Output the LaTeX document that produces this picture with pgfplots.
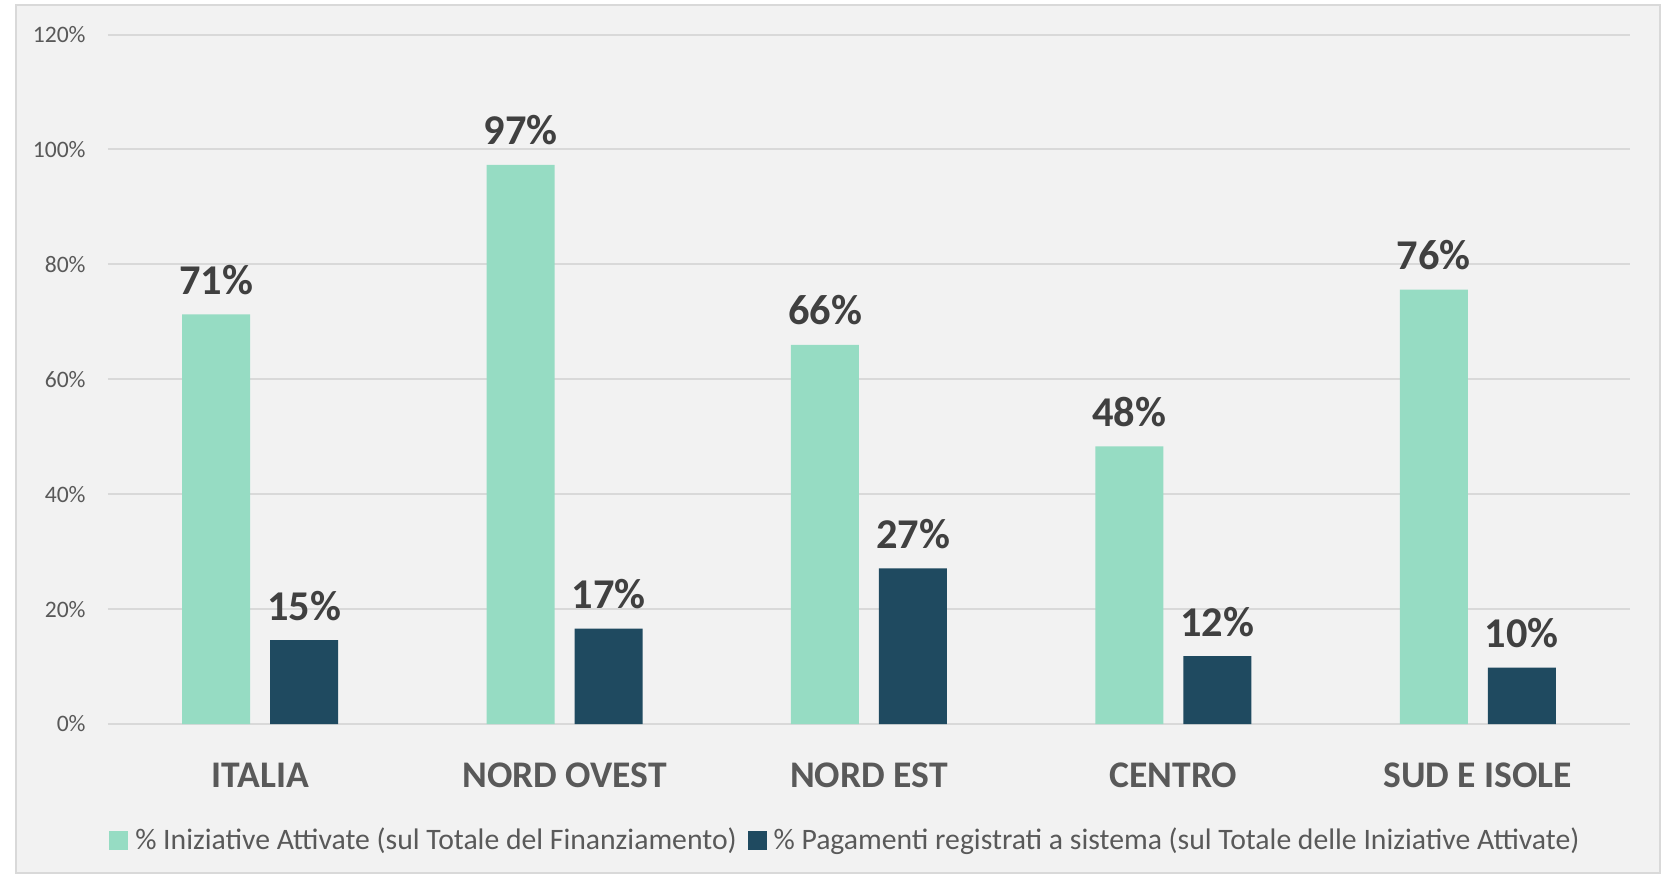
\documentclass[border=0pt]{standalone}
\usepackage{fontspec}
\setmainfont{Carlito}
\usepackage{pgfplots}
\pgfplotsset{compat=1.18}
\definecolor{bgc}{HTML}{F2F2F2}
\definecolor{gridc}{HTML}{D9D9D9}
\definecolor{lightbar}{HTML}{96DCC3}
\definecolor{darkbar}{HTML}{1F4A60}
\definecolor{tickc}{HTML}{595959}
\definecolor{labc}{HTML}{404040}
\begin{document}
\begin{tikzpicture}
\path[use as bounding box, fill=white] (-54pt,-75.5pt) rectangle (777pt,362pt);
\draw[gridc, line width=1pt, fill=bgc] (-46pt,-74.5pt) rectangle (776pt,359.5pt);
\begin{axis}[
 at={(0,0)}, anchor=south west,
 scale only axis, width=761pt, height=344.75pt,
 xmin=-0.5, xmax=4.5, ymin=0, ymax=120,
 ybar=10pt, bar width=34pt,
 axis line style={draw=none}, major tick length=0pt,
 ytick={0,20,...,120},
 yticklabel={\pgfmathprintnumber{\tick}\%},
 yticklabel style={anchor=east, inner sep=0pt, xshift=-11pt, font=\fontsize{11.8}{12}\selectfont, text=tickc},
 xtick={0,1,2,3,4}, xticklabels={ITALIA, NORD OVEST, NORD EST, CENTRO, SUD E ISOLE},
 xticklabel style={anchor=base, inner sep=0pt, yshift=-31.5pt, font=\bfseries\fontsize{18.8}{20}\selectfont, text=tickc},
 /pgf/number format/assume math mode=true,
 ymajorgrids, grid style={gridc, line width=1pt},
 nodes near coords={\pgfmathprintnumber[fixed,precision=0]{\pgfplotspointmeta}\%},
 every node near coord/.append style={anchor=base, inner sep=0pt, yshift=10pt, font=\bfseries\fontsize{21.2}{24}\selectfont, text=labc},
 legend columns=2,
 legend style={at={(0.0007,-0.169)}, anchor=west, draw=none, fill=none, inner sep=0pt,
   font=\fontsize{14.85}{16}\selectfont, text=tickc, nodes={inner sep=0pt},
   /tikz/every odd column/.append style={column sep=3.5pt},
   /tikz/every even column/.append style={column sep=5.5pt}},
]
\addlegendimage{legend image code/.code={\fill[lightbar] (0pt,-4.5pt) rectangle (9pt,4.5pt);}}
\addlegendimage{legend image code/.code={\fill[darkbar] (0pt,-4.5pt) rectangle (9pt,4.5pt);}}
\addplot[fill=lightbar, draw=none, bar shift=-22pt] coordinates {(0,71.3) (1,97.3) (2,66.0) (3,48.3) (4,75.6)};
\addplot[fill=darkbar, draw=none, bar shift=22pt] coordinates {(0,14.6) (1,16.6) (2,27.1) (3,11.8) (4,9.8)};
\legend{\% Iniziative Attivate (sul Totale del Finanziamento), \% Pagamenti registrati a sistema (sul Totale delle Iniziative Attivate)}
\end{axis}
\end{tikzpicture}
\end{document}
